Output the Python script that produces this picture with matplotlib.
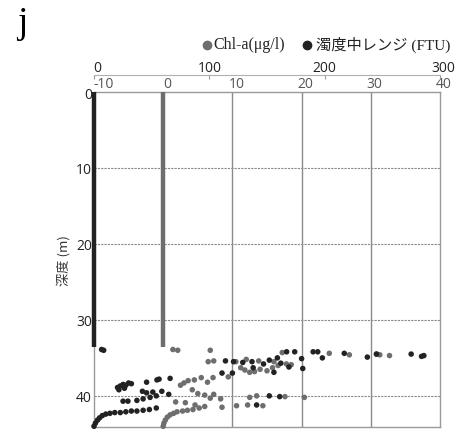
import matplotlib
matplotlib.use("Agg")
import matplotlib.pyplot as plt
from matplotlib.lines import Line2D
from matplotlib.transforms import ScaledTranslation

# ---- data ----
# continuous near-surface records (value 0 down to ~33.6 m)
chl_line_depth = [0.0, 33.6]
chl_line_value = [0.0, 0.0]
turb_line_depth = [0.0, 33.6]
turb_line_value = [0.0, 0.0]

# Chl-a points (ug/l), bottom scale -10..40
chl_value = [0.0, 0.1, 0.3, 0.6, 1.0, 1.5, 2.0, 2.8, 3.5, 4.3, 5.2, 6.0,
             1.4, 2.1, 6.8, 6.5, 7.3,
             2.5, 3.0, 3.6, 4.5, 5.5, 6.4, 4.2, 5.0, 6.0, 6.8, 7.3,
             1.8, 3.2, 4.6, 8.3, 8.5, 10.6, 12.2, 14.4,
             12.5, 13.5, 17.6, 20.4,
             7.2, 9.4, 10.5, 11.2, 11.8, 12.5, 13.2, 14.0, 15.0, 15.8, 16.6,
             17.8, 18.5, 12.0, 13.8, 16.0, 17.2,
             24.0, 26.9, 30.8, 31.3, 32.7]
chl_depth = [44.0, 43.6, 43.2, 42.8, 42.5, 42.3, 42.1, 42.0, 41.9, 41.8, 41.6, 41.4,
             33.9, 34.0, 34.0, 35.5, 35.4,
             38.6, 38.3, 38.0, 37.9, 37.6, 38.2, 39.2, 39.7, 39.9, 40.3, 39.8,
             40.8, 40.9, 41.2, 40.4, 41.5, 41.3, 41.2, 41.3,
             40.2, 40.0, 40.1, 40.2,
             37.6, 37.5, 35.5, 36.3, 36.6, 36.9, 36.8, 36.5, 36.7, 36.3, 36.0,
             35.8, 35.9, 35.2, 35.4, 35.5, 34.3,
             34.4, 34.6, 34.5, 34.6, 34.7]

# turbidity points (FTU), top scale 0..300
turb_value = [0, 1.2, 3, 4.8, 7.2, 10.2, 13.8, 18, 22.8, 27.6, 32.4, 37.2, 42.6, 48, 54,
              20.4, 22.8, 25.2, 27.6, 30, 32.4, 21.6, 26.4,
              45.6, 54.6, 56.4, 66,
              42, 45.6, 51, 58.8, 64.8,
              25.2, 29.4, 37.2, 42.6, 48.6, 54,
              6.6, 8.4,
              111, 120, 114, 121, 129, 137, 147, 152, 159, 167, 174, 180, 181,
              169, 156, 138, 162,
              152, 161, 141,
              190, 194, 198, 217, 237, 245, 275, 284, 286]
turb_depth = [44.0, 43.6, 43.2, 42.9, 42.6, 42.4, 42.3, 42.2, 42.2, 42.1, 42.0, 42.0, 41.9, 41.8, 41.6,
              38.9, 38.7, 38.5, 38.6, 38.3, 38.4, 39.2, 39.0,
              38.2, 37.9, 37.8, 37.7,
              39.4, 39.6, 39.5, 39.4, 39.8,
              40.7, 40.7, 40.6, 40.4, 40.2, 40.0,
              33.9, 34.0,
              37.0, 37.0, 35.4, 35.5, 35.6, 35.5, 35.8, 35.3, 35.0, 34.2, 34.2, 35.1, 36.4,
              36.2, 36.9, 36.3, 35.7,
              40.0, 40.1, 41.2,
              34.2, 34.2, 35.0, 34.4, 34.9, 34.5, 34.5, 34.8, 34.7]

x_ticks = [-10, 0, 10, 20, 30, 40]
top_ticks = [0, 100, 200, 300]
y_ticks = [0, 10, 20, 30, 40]

DARK = "#222222"
GRAY = "#6e6e6e"
SERIF_JP = ["Liberation Serif", "Noto Sans CJK JP"]

# ---- figure ----
fig = plt.figure(figsize=(4.6, 4.35), dpi=100)
ax = fig.add_axes([94/460, 1-428/435, (440-94)/460, (428-93)/435])
ax.set_xlim(-10, 40)
ax.set_ylim(44.1, 0)

ax2 = ax.twiny()
ax2.set_xlim(0, 300)

# grid
for gx in [10, 20, 30]:
    ax.axvline(gx, color="#8a8a8a", lw=1.0, zorder=0)
for gy in [10, 20, 30, 40]:
    ax.axhline(gy, color="#8a8a8a", lw=0.8, ls=(0, (2, 1)), zorder=0)

# data
ax.plot(chl_line_value, chl_line_depth, color=GRAY, lw=3.2, solid_capstyle="butt",
        zorder=3, clip_on=False)
ax.scatter(chl_value, chl_depth, s=16, color=GRAY, edgecolors="none", zorder=3, clip_on=False)
ax2.plot(turb_line_value, turb_line_depth, color=DARK, lw=3.2, solid_capstyle="butt",
         zorder=3, clip_on=False)
ax2.scatter(turb_value, turb_depth, s=16, color=DARK, edgecolors="none", zorder=4, clip_on=False)

# primary axes styling
ax.xaxis.set_ticks_position("top")
ax.xaxis.set_label_position("top")
ax.set_xticks(x_ticks)
ax.set_xticklabels([str(t) for t in x_ticks])
ax.tick_params(axis="x", length=0, pad=1.0, labelsize=10, labelcolor="#555555")
ax.set_yticks(y_ticks)
ax.set_yticklabels([str(t) for t in y_ticks])
ax.tick_params(axis="y", length=0, pad=1.5, labelsize=10, labelcolor="#222222")
for side in ["top", "bottom", "right", "left"]:
    ax.spines[side].set_color("#9a9a9a")
    ax.spines[side].set_linewidth(1.0)
ax.set_ylabel("深度 (m)", family=["Noto Sans CJK JP", "DejaVu Sans"], fontsize=9.5,
              labelpad=4, color="#333333")

# top secondary axis
for side in ["bottom", "left", "right"]:
    ax2.spines[side].set_visible(False)
ax2.spines["top"].set_position(("outward", 12))
ax2.spines["top"].set_color("#b0b0b0")
ax2.set_xticks(top_ticks)
ax2.set_xticklabels([str(t) for t in top_ticks])
ax2.tick_params(axis="x", direction="in", length=3, color="#9a9a9a", pad=0.5,
                labelsize=10, labelcolor="#222222")

for a in (ax, ax2):
    for lab in a.get_xticklabels() + a.get_yticklabels():
        lab.set_family("Open Sans")

# small rightward offsets of the top tick labels, as in the reference
for i, lab in enumerate(ax.get_xticklabels()):
    dx = 10 if i == 0 else 4
    lab.set_transform(lab.get_transform() + ScaledTranslation(dx/100, 0, fig.dpi_scale_trans))
for i, lab in enumerate(ax2.get_xticklabels()):
    dx = 3 if i in (0, len(top_ticks)-1) else 0
    lab.set_transform(lab.get_transform() + ScaledTranslation(dx/100, 0, fig.dpi_scale_trans))

# panel letter
fig.text(17/460, 1-24/435, "j", fontsize=27, family="Liberation Serif", va="center", ha="left")

# legend
fig.lines.append(Line2D([207/460], [1-46/435], marker="o", ms=6, color=GRAY,
                        transform=fig.transFigure, ls="none"))
fig.text(213/460, 1-45/435, "Chl-a(μg/l)", fontsize=11.5, family=SERIF_JP,
         va="center", ha="left", color="#222222")
fig.lines.append(Line2D([307/460], [1-46/435], marker="o", ms=6, color=DARK,
                        transform=fig.transFigure, ls="none"))
fig.text(316/460, 1-45/435, "濁度中レンジ (FTU)", fontsize=11, family=SERIF_JP,
         va="center", ha="left", color="#222222")

fig.savefig("out.png", dpi=100)
